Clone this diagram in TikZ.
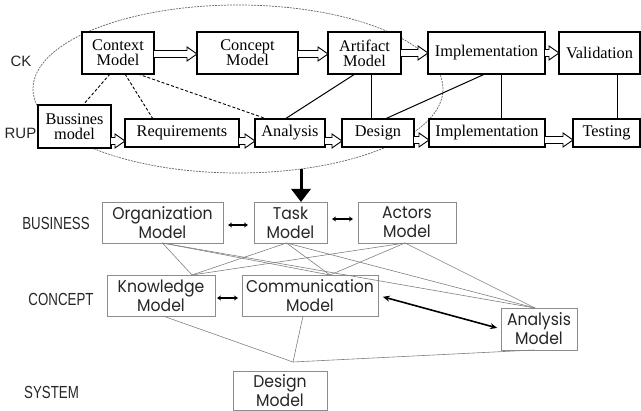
\documentclass[tikz,border=0pt]{standalone}
\usepackage{fontspec}
\setmainfont{Liberation Serif}
\newfontfamily\lsans{Liberation Sans}
\newfontfamily\gsans[FakeStretch=0.92]{Poppins}
\newfontfamily\lblsans[FakeStretch=0.76]{Liberation Sans}
\usetikzlibrary{arrows.meta,shapes.geometric,calc}
\tikzset{
  sz/.style 2 args={minimum width=#1pt, minimum height=#2pt},
  topbox/.style={draw, fill=white, line width=1.1pt, inner sep=0pt, outer sep=0pt, align=center,
    font=\fontsize{16.3}{15}\selectfont},
  botbox/.style={draw=black!45, fill=white, line width=0.7pt, inner sep=0pt, outer sep=0pt, align=center,
    text=black!85, font=\gsans\fontsize{17}{19}\selectfont},
  harrowline/.style={line width=0.9pt, line join=miter, fill=white},
  dashline/.style={line width=0.9pt, dash pattern=on 3pt off 2pt},
  solidline/.style={line width=1pt},
  thinlink/.style={draw=black!50, line width=0.6pt},
  smalldbl/.style={line width=1.6pt, {Stealth[length=4pt,width=5pt]}-{Stealth[length=4pt,width=5pt]}},
  bigdbl/.style={line width=1.6pt, {Stealth[length=7pt,width=6pt]}-{Stealth[length=7pt,width=6pt]}},
  rowlabel/.style={font=\lsans\fontsize{15}{15}\selectfont, text=black!85},
  levlabel/.style={font=\lblsans\fontsize{17.5}{17.5}\selectfont, text=black!85}
}
\newcommand\hollowarr[2]{%
  \draw[harrowline] let \p1=(#1), \p2=(#2) in
    (\x1,{\y1+3.5pt}) -- ({\x2-10pt},{\y1+3.5pt}) -- ({\x2-10pt},{\y1+7pt}) -- (\x2,\y1)
    -- ({\x2-10pt},{\y1-7pt}) -- ({\x2-10pt},{\y1-3.5pt}) -- (\x1,{\y1-3.5pt});}
\begin{document}
\begin{tikzpicture}[x=1pt,y=-1pt]
\useasboundingbox (0,0) rectangle (641,411);
% ellipse
\node[ellipse, draw=black!60, line width=0.7pt, dash pattern=on 2pt off 1pt,
  minimum width=410pt, minimum height=168pt, inner sep=0pt, outer sep=0pt] (ell) at (238,89) {};
% row labels
\node[rowlabel] (ck) at (21,61) {CK};
\node[rowlabel] (rup) at (20.5,133) {RUP};
% top row
\node[topbox, sz={72}{42}] (ctx) at (118,53) {Context\\Model};
\node[topbox, sz={101}{42}] (cpt) at (247.5,53) {Concept\\Model};
\node[topbox, sz={73}{42}] (art) at (364.5,53) {Artifact\\Model};
\node[topbox, sz={117}{42}] (impT) at (486.5,53) {Implementation};
\node[topbox, sz={81}{42}] (val) at (599.5,53) {Validation};
% bottom row
\node[topbox, sz={73}{43}] (bus) at (74.5,126.5) {Bussines\\model};
\node[topbox, sz={114}{28}] (req) at (182,133) {Requirements};
\node[topbox, sz={70}{28}] (ana) at (290,133) {Analysis};
\node[topbox, sz={72}{28}] (des) at (378,133) {Design};
\node[topbox, sz={116}{28}] (impB) at (487,133) {Implementation};
\node[topbox, sz={67}{28}] (tst) at (606.5,133) {Testing};
% hollow arrows
\hollowarr{[yshift=-1pt]ctx.east}{[yshift=-1pt]cpt.west}
\hollowarr{[yshift=-1pt]cpt.east}{[yshift=-1pt]art.west}
\hollowarr{art.east}{impT.west}
\hollowarr{impT.east}{val.west}
\hollowarr{[yshift=-14.5pt]bus.east}{[yshift=-8pt]req.west}
\hollowarr{[yshift=-8pt]req.east}{[yshift=-8pt]ana.west}
\hollowarr{[yshift=-8pt]ana.east}{[yshift=-8pt]des.west}
\hollowarr{[yshift=-7pt]des.east}{[yshift=-7pt]impB.west}
\hollowarr{[yshift=-7pt]impB.east}{[yshift=-7pt]tst.west}
% dashed links
\draw[dashline] ([xshift=-8pt]ctx.south) -- ([xshift=8.5pt]bus.north);
\draw[dashline] ([xshift=7pt]ctx.south) -- ([xshift=-29pt]req.north);
\draw[dashline] ([xshift=20pt]ctx.south) -- ([xshift=-23pt]ana.north);
% solid links
\draw[solidline] ([xshift=-9.5pt]art.south) -- ([xshift=-5pt]ana.north);
\draw[solidline] ([xshift=6.5pt]art.south) -- ([xshift=6.5pt]art.south |- des.north);
\draw[solidline] ([xshift=-1.5pt]impT.south) -- ([xshift=7pt]des.north);
\draw[solidline] ([xshift=14.5pt]impT.south) -- ([xshift=14.5pt]impT.south |- impB.north);
\draw[solidline] ([xshift=17.5pt]val.south) -- ([xshift=17.5pt]val.south |- tst.north);
% level labels
\node[levlabel] (lbus) at (56,223) {BUSINESS};
\node[levlabel] (lcon) at (61,299) {CONCEPT};
\node[levlabel] (lsys) at (51.5,392) {SYSTEM};
% bottom models
\node[botbox, sz={121}{41}] (org) at (162.5,222.5) {Organization\\Model};
\node[botbox, sz={73}{41}] (task) at (290.5,222.5) {Task\\Model};
\node[botbox, sz={98}{41}] (act) at (407,222.5) {Actors\\Model};
\node[botbox, sz={108}{41}] (know) at (161,295.5) {Knowledge\\Model};
\node[botbox, sz={136}{41}] (comm) at (310,295.5) {Communication\\Model};
\node[botbox, sz={76}{42}] (anm) at (539,329) {Analysis\\Model};
\node[botbox, sz={94}{39}] (dsm) at (280,390.5) {Design\\Model};
\coordinate (conv) at (293,362);
\coordinate (atop) at (301,169);
% big arrow
\draw[line width=3pt, -{Triangle[length=13pt,width=19pt]}] (atop) -- ([xshift=10.5pt]task.north);
% bipartite lines
\foreach \s/\sx in {org/0, task/-4, act/-2}{
  \draw[thinlink] ([xshift=\sx pt]\s.south) -- ([xshift=31pt]know.north);
  \draw[thinlink] ([xshift=\sx pt]\s.south) -- ([xshift=20pt]comm.north);
  \draw[thinlink] ([xshift=\sx pt]\s.south) -- ([xshift=-4pt]anm.north);
}
% lines to design model
\draw[thinlink] ([xshift=2pt]know.south) -- (conv);
\draw[thinlink] ([xshift=-7pt]comm.south) -- (conv);
\draw[thinlink] ([xshift=-5pt]anm.south) -- (conv);
% small double arrows
\draw[smalldbl, shorten <=5pt, shorten >=6pt] ([yshift=-2.5pt]org.east) -- ([yshift=-2.5pt]task.west);
\draw[smalldbl, shorten <=5pt, shorten >=5pt] ([yshift=3.5pt]task.east) -- ([yshift=3.5pt]act.west);
\draw[smalldbl, shorten <=2pt, shorten >=4pt] ([yshift=-2.5pt]know.east) -- ([yshift=-2.5pt]comm.west);
\draw[bigdbl, shorten <=5pt, shorten >=4pt] (comm.east) -- (anm.west);
\end{tikzpicture}
\end{document}
